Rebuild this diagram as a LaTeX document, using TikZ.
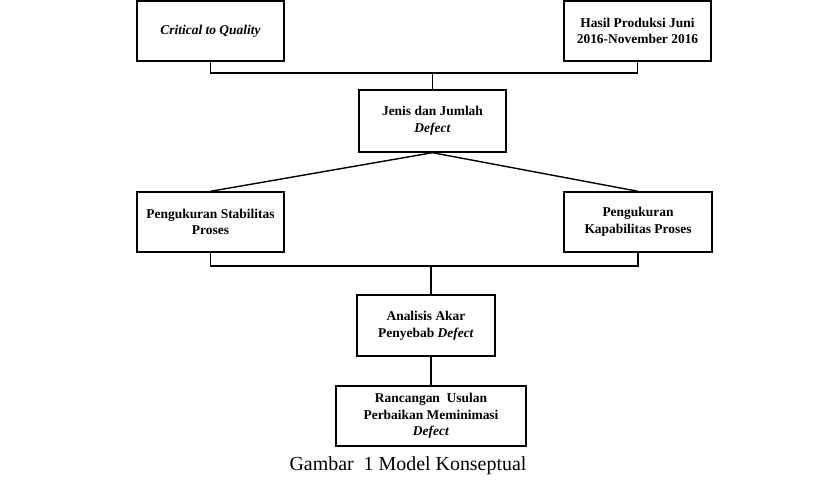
\documentclass[tikz,border=0pt]{standalone}
\usepackage{fontspec}
\setmainfont{Liberation Serif}
\begin{document}
\begin{tikzpicture}[x=1bp,y=-1bp,
  box/.style={draw=black,line width=1.4bp,fill=white,align=center,inner sep=2bp,
    font=\bfseries\fontsize{13.5}{16.8}\selectfont},
  link/.style={draw=black,line width=1.4bp}]
\useasboundingbox (0,0) rectangle (816,488);
\node[box,minimum width=147bp,minimum height=60bp] (A) at (210.5,31) {\textit{Critical to Quality}};
\node[box,minimum width=147bp,minimum height=60bp] (B) at (637.5,31) {Hasil Produksi Juni\\2016-November 2016};
\node[box,minimum width=147bp,minimum height=62bp] (C) at (432.5,121) {Jenis dan Jumlah\\\textit{Defect}};
\node[box,minimum width=147bp,minimum height=60bp] (D) at (210.5,222) {Pengukuran Stabilitas\\Proses};
\node[box,minimum width=148bp,minimum height=60bp] (E) at (638,222) {Pengukuran\\Kapabilitas Proses};
\node[box,minimum width=138bp,minimum height=61bp] (F) at (426,325.5) {Analisis Akar\\Penyebab \textit{Defect}};
\node[box,minimum width=190bp,minimum height=60bp] (G) at (431,416) {Rancangan\ \ Usulan\\Perbaikan Meminimasi\\\textit{Defect}};
\coordinate (m1) at (432.5,73);
\coordinate (m2) at (431,266);
\draw[link] (A.south) |- (m1) -| (B.south);
\draw[link] (m1) -- (C.north);
\draw[link] (D.north) -- (C.south) -- (E.north);
\draw[link] (D.south) |- (m2) -| (E.south);
\draw[link] (m2) -- (m2 |- F.north);
\draw[link] (F.south -| m2) -- (G.north);
\node[font=\fontsize{20}{22}\selectfont] (cap) at (408,466) {Gambar\ \ 1 Model Konseptual};
\end{tikzpicture}
\end{document}
